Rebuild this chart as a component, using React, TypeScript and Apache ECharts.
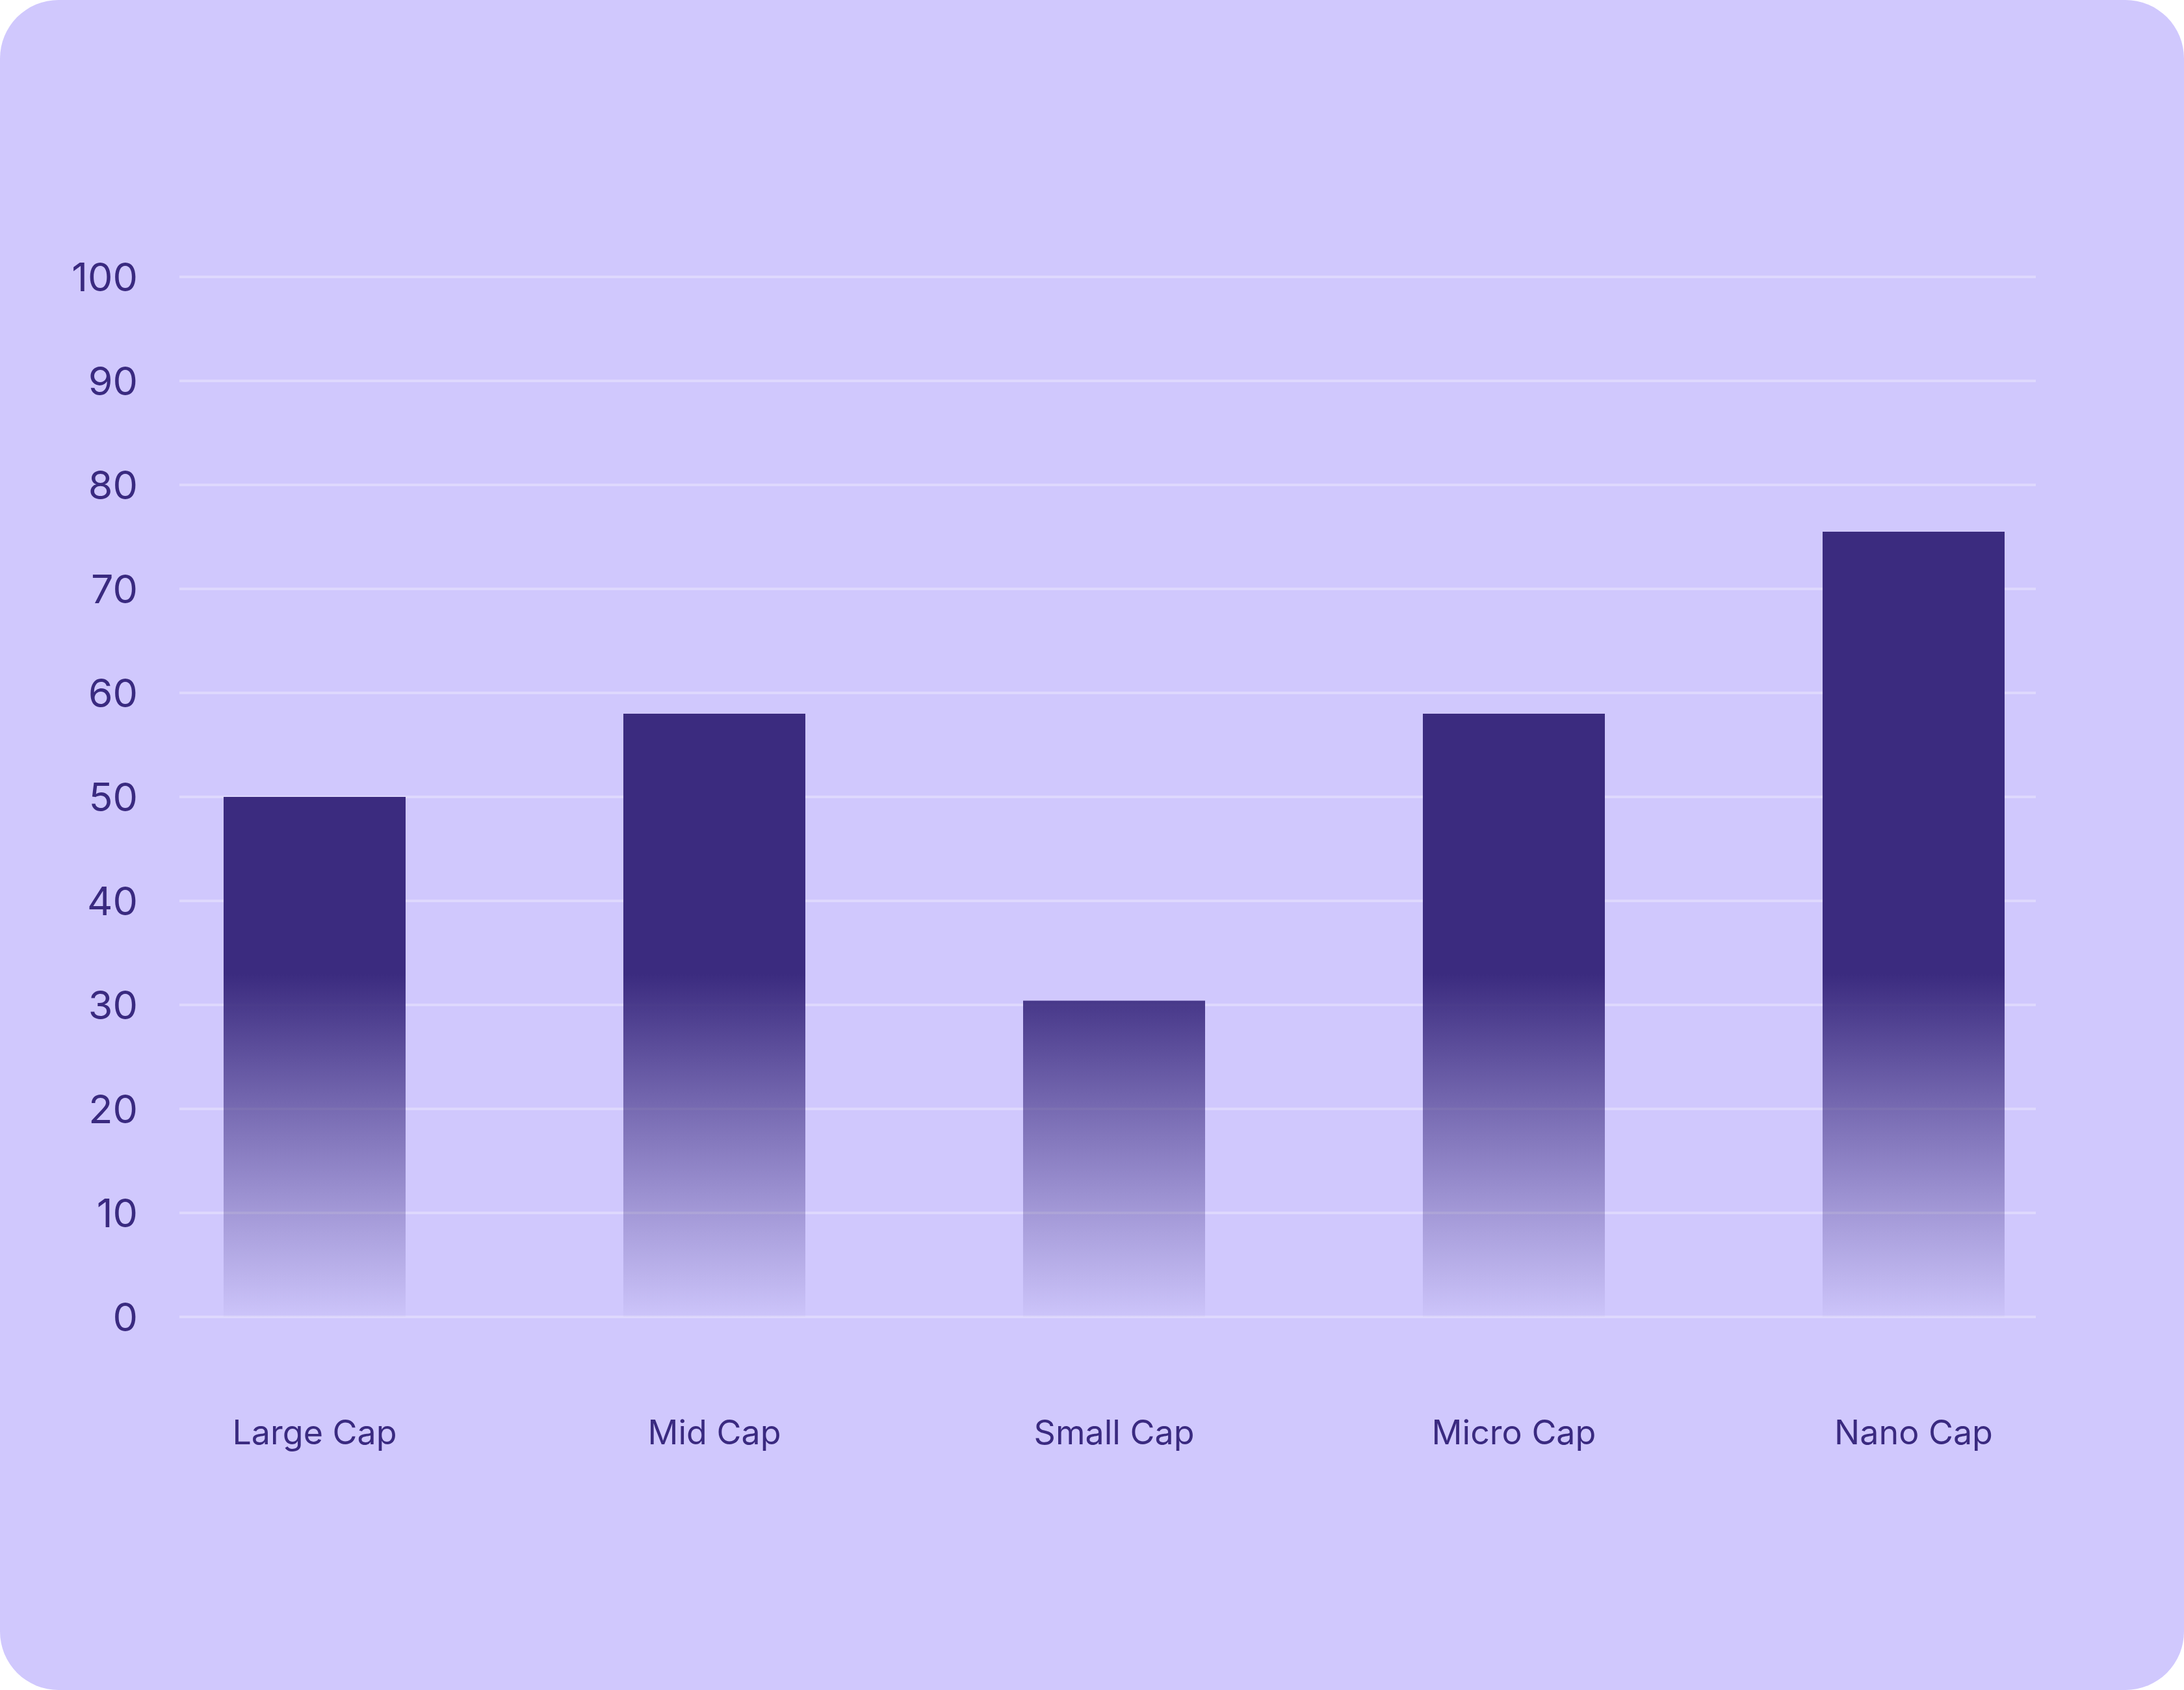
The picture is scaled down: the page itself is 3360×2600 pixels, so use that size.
import React, { useEffect, useRef } from "react";
import * as echarts from "echarts";

const categories = ["Large Cap", "Mid Cap", "Small Cap", "Micro Cap", "Nano Cap"];
const values = [50, 58, 30.4, 58, 75.5];
const yTicks = { min: 0, max: 100, interval: 10 };

const W = 3360;
const H = 2600;
const GRID_TOP = 426;
const GRID_BOTTOM = 574;
const TEXT = "#3A2A80";

export default function App() {
  const ref = useRef<HTMLDivElement>(null);
  useEffect(() => {
    document.body.style.margin = "0";
    if (!ref.current) return;
    const chart = echarts.init(ref.current, undefined, { renderer: "svg" });
    const plotH = H - GRID_TOP - GRID_BOTTOM;
    const pxFor = (v: number) => GRID_TOP + plotH * (1 - (v - yTicks.min) / (yTicks.max - yTicks.min));
    const gradTop = pxFor(33);
    const gradBottom = pxFor(0) + 14;
    const barColor = new echarts.graphic.LinearGradient(
      0,
      gradTop,
      0,
      gradBottom,
      [
        { offset: 0, color: "rgba(59,43,127,1)" },
        { offset: 0.4, color: "rgba(59,43,127,0.58)" },
        { offset: 0.7, color: "rgba(59,43,127,0.28)" },
        { offset: 1, color: "rgba(59,43,127,0)" },
      ],
      true
    );
    chart.setOption({
      animation: false,
      backgroundColor: "transparent",
      textStyle: { fontFamily: "Inter" },
      grid: [
        { left: 276, right: 228, top: GRID_TOP, bottom: GRID_BOTTOM },
        { left: 176.5, right: 108.5, top: GRID_TOP, bottom: GRID_BOTTOM },
      ],
      xAxis: [
        { type: "value", gridIndex: 0, min: 0, max: 1, show: false },
        {
          type: "category",
          gridIndex: 1,
          data: categories,
          axisLine: { show: false },
          axisTick: { show: false },
          axisLabel: { color: TEXT, fontSize: 52, fontFamily: "Inter", margin: 151 },
        },
      ],
      yAxis: [
        {
          type: "value",
          gridIndex: 0,
          min: yTicks.min,
          max: yTicks.max,
          interval: yTicks.interval,
          axisLine: { show: false },
          axisTick: { show: false },
          axisLabel: {
            color: TEXT,
            fontSize: 61,
            fontFamily: "Inter",
            margin: 64,
            padding: [0, 0, 8, 0],
          },
          splitLine: { show: true, lineStyle: { color: "rgba(255,255,255,0.3)", width: 4 } },
        },
        { type: "value", gridIndex: 1, min: yTicks.min, max: yTicks.max, show: false, splitLine: { show: false } },
      ],
      series: [
        {
          type: "bar",
          xAxisIndex: 1,
          yAxisIndex: 1,
          data: values,
          barWidth: 280,
          itemStyle: { color: barColor },
          z: 2,
        },
      ],
    });
    return () => chart.dispose();
  }, []);
  return (
    <div
      style={{ width: W, height: H, background: "#D0C8FD", borderRadius: 90, overflow: "hidden" }}
    >
      <div ref={ref} style={{ width: W, height: H }} />
    </div>
  );
}
